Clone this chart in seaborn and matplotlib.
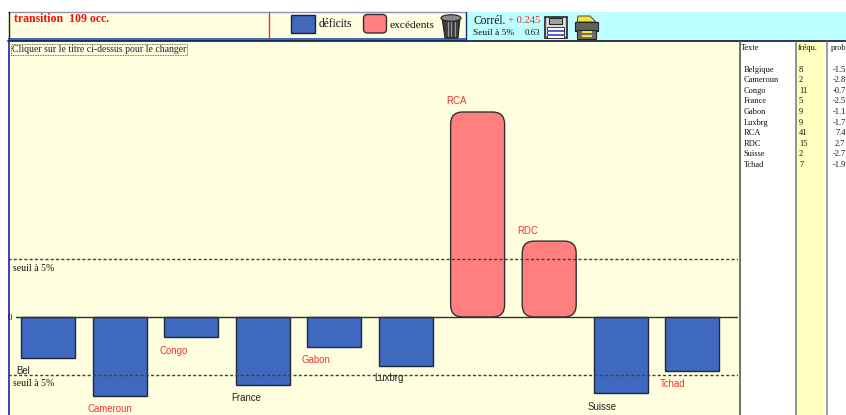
import matplotlib
matplotlib.use("Agg")
import matplotlib.pyplot as plt
from matplotlib.patches import Rectangle, FancyBboxPatch, Polygon, Ellipse
import seaborn as sns
import pandas as pd

# ---------- data ----------
categories = ["Belgique", "Cameroun", "Congo", "France", "Gabon", "Luxbrg", "RCA", "RDC", "Suisse", "Tchad"]
bar_labels = ["Bel", "Cameroun", "Congo", "France", "Gabon", "Luxbrg", "RCA", "RDC", "Suisse", "Tchad"]
values = [-1.46, -2.82, -0.71, -2.43, -1.07, -1.75, 7.32, 2.71, -2.71, -1.93]
freq_text = ["8", "2", "11", "5", "9", "9", "41", "15", "2", "7"]
prob_text = ["-1.5", "-2.8", "-0.7", "-2.5", "-1.1", "-1.7", "7.4", "2.7", "-2.7", "-1.9"]
label_red = [False, True, True, False, True, False, True, True, False, True]
threshold = 2.07

W, H = 846, 415
CREAM = "#FFFFE0"
BLUE = "#3F69BE"
PINK = "#FF7F7F"
RED = "#F02828"
SERIF = "Liberation Serif"
SANS = "Liberation Sans"

sns.set_theme(style="white")
fig = plt.figure(figsize=(W / 100, H / 100), dpi=100, facecolor="white")

# pixel-coordinate layer for the page furniture
bg = fig.add_axes([0, 0, 1, 1], zorder=0)
bg.set_xlim(0, W)
bg.set_ylim(H, 0)
bg.axis("off")


def rect(x0, y0, x1, y1, fc, ec="none", lw=0, z=1, a=bg):
    a.add_patch(Rectangle((x0, y0), x1 - x0, y1 - y0, fc=fc, ec=ec, lw=lw, zorder=z))


rect(8, 12, 466, 39, CREAM)
rect(466, 12, 846, 41, "#BDFEFF")
rect(8, 42, 740, 415, CREAM)
rect(740, 42, 796, 415, "white")
rect(796, 42, 826, 415, "#FFFFC0")
rect(826, 42, 846, 415, "white")
rect(8, 38.5, 466, 41, BLUE)
bg.plot([8, 846], [41.5, 41.5], color="#202840", lw=1.3, zorder=2)
bg.plot([8, 466], [12, 12], color="#9090C0", lw=1, zorder=2)
bg.plot([8.5, 8.5], [12, 38], color="#222222", lw=1, zorder=2)
bg.plot([8.5, 8.5], [42, 415], color="#2020B0", lw=1.2, zorder=2)
bg.plot([268.5, 268.5], [12, 38.5], color="#F03030", lw=1, zorder=2)
bg.plot([466, 466], [12, 41], color="#103080", lw=1, zorder=2)
bg.plot([740, 740], [42, 415], color="#707070", lw=1.4, zorder=2)
bg.plot([795.5, 795.5], [42, 415], color="#808080", lw=1.2, zorder=2)
bg.plot([827, 827], [42, 415], color="#8888C0", lw=1.2, zorder=2)

# ---------- chart axes ----------
ax = fig.add_axes([8 / W, 0, (738 - 8) / W, (415 - 42) / H], zorder=1)
ax.patch.set_alpha(0)
kinds = ["exc" if v > 0 else "def" for v in values]
df = pd.DataFrame({"cat": categories, "val": values, "kind": kinds})
sns.barplot(data=df, x="cat", y="val", hue="kind", palette={"def": BLUE, "exc": PINK},
            dodge=False, width=0.754, legend=False, ax=ax, saturation=1,
            edgecolor="#20283C", linewidth=1.0)
ax.set_xlim(-0.559, 9.637)
ax.set_ylim(-3.5, 9.82)
ax.axis("off")
for p in list(ax.patches):
    if p.get_height() > 0:
        x, w, h = p.get_x(), p.get_width(), p.get_height()
        p.remove()
        ax.add_patch(FancyBboxPatch((x, 0), w, h,
                                    boxstyle="round,pad=0,rounding_size=0.17",
                                    mutation_aspect=71.6 / 28,
                                    fc=PINK, ec="#303030", lw=1.0, zorder=3))
ax.axhline(0, color="#303030", lw=1, xmin=0.011, zorder=4)
for s in (threshold, -threshold):
    ax.axhline(s, color="#404040", lw=1, dashes=(2.2, 1.6), zorder=4)

# ---------- overlay text ----------
fg = fig.add_axes([0, 0, 1, 1], zorder=5)
fg.set_xlim(0, W)
fg.set_ylim(H, 0)
fg.axis("off")
fg.patch.set_alpha(0)


def t(x, y, s, size, color="#111111", fam=SERIF, ha="left", weight="normal"):
    fg.text(x, y, s, fontsize=size, color=color, family=fam, ha=ha, va="center", fontweight=weight)


t(14, 18.5, "transition  109 occ.", 8.5, "#F01010", weight="bold")
bbox = dict(fc="none", ec="#444444", lw=0.6, ls=(0, (1, 1)), pad=0.6)
fg.text(12, 49.5, "Cliquer sur le titre ci-dessus pour le changer", fontsize=7.05, color="#222233",
        family=SERIF, va="center", bbox=bbox)
t(13, 268.5, "seuil à 5%", 7.0)
t(13, 383.5, "seuil à 5%", 7.0)
t(8, 317.5, "0", 6.3)

# legend
rect(290.5, 15.5, 314.5, 33.5, BLUE, "#1A2030", 1, z=2, a=fg)
t(319, 24, "déficits", 8.3, weight="normal")
fg.add_patch(FancyBboxPatch((363.5, 14.5), 23, 18.5, boxstyle="round,pad=0,rounding_size=4",
                            fc=PINK, ec="#303030", lw=1))
t(390, 25, "excédents", 8.2)

# trash
fg.add_patch(Polygon([[442, 18], [460, 18], [458, 38], [445, 38]], fc="#3C3C3C", ec="#222222", lw=0.8))
fg.add_patch(Ellipse((451, 18), 20, 6.5, fc="#8A8A8A", ec="#222222", lw=0.8))
for xx in (447.5, 451, 454.5):
    fg.plot([xx, xx], [22, 36], color="#9A9A9A", lw=0.9)

# correlation
t(474, 20.5, "Corrél.", 8.3)
t(508, 20.5, "+ 0.245", 7.6, RED)
t(473, 33, "Seuil à 5%", 6.8)
t(525, 33, "0.63", 6.4)

# floppy
rect(544.5, 17.5, 566.5, 38.5, "#D8D8D8", "#222222", 1.2, z=2, a=fg)
rect(549, 18, 562, 24, "#A0A0A0", "#222222", 0.7, z=3, a=fg)
rect(547, 27, 564, 38, "white", "#222222", 0.6, z=3, a=fg)
rect(547, 30, 564, 32, "#5060E0", z=4, a=fg)
rect(547, 34, 564, 36, "#5060E0", z=4, a=fg)
# printer
rect(573, 13, 600, 40, "#C8FAFA", z=1, a=fg)
fg.add_patch(Polygon([[577, 22], [578, 16], [590, 16], [596, 22]], fc="#F0E040", ec="#333333", lw=0.6, zorder=2))
rect(575, 22, 598, 31, "#5C6460", "#222222", 0.8, z=3, a=fg)
rect(577, 30, 596, 39, "#6E6E60", "#222222", 0.8, z=3, a=fg)
rect(582, 31.5, 592, 33, "#F0E040", z=4, a=fg)
rect(582, 35.5, 592, 37, "#F0E040", z=4, a=fg)

# bar labels
label_xy = [(16, 371), (87, 409), (159, 351), (231, 398), (302, 360),
            (374, 378), (446, 101), (517, 231), (588, 407), (660, 384)]
for (lx, ly), lab, red in zip(label_xy, bar_labels, label_red):
    t(lx, ly, lab, 6.9, "#F83030" if red else "#222222", fam=SANS)

# table
t(741, 48.5, "Texte", 6.0)
t(798, 48.5, "fréqu.", 6.0)
t(831, 48.5, "prob", 6.0)
for i, (c, f, pr) in enumerate(zip(categories, freq_text, prob_text)):
    y = 69.5 + i * 10.6
    t(744, y, c, 6.0)
    t(799, y, f, 6.0)
    t(833 if pr.startswith("-") else 835, y, pr, 6.0)

fig.savefig("out.png", dpi=100, facecolor="white")
